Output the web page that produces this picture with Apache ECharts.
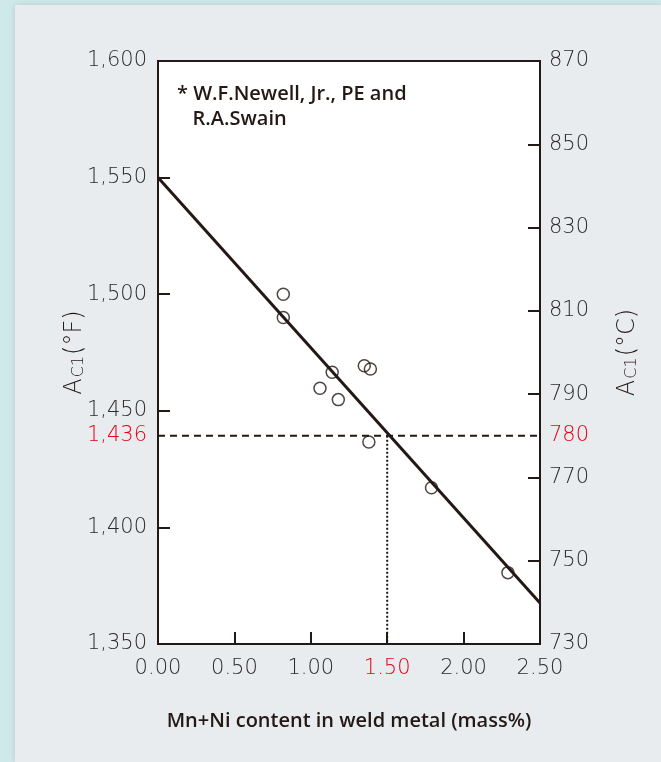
<!DOCTYPE html>
<html><head><meta charset="utf-8">
<script src="https://cdn.jsdelivr.net/npm/echarts@6/dist/echarts.min.js"></script>
<style>html,body{margin:0;padding:0;background:#cfe8e9;}#c{width:661px;height:762px;}</style>
</head><body><div id="c"></div>
<script>
// Data
const mnNi = [0.82, 0.82, 1.14, 1.06, 1.18, 1.35, 1.39, 1.38, 1.79, 2.29];
const ac1F = [1500, 1490, 1466.5, 1459.7, 1454.8, 1469.3, 1467.9, 1436.6, 1417, 1380.6];
const fitX = [0, 2.5];
const fitF = [1550, 1367.6];
const refMnNi = 1.5;
const refC = 780;
const refFLabel = '1,436';
const xTicks = [0, 0.5, 1, 1.5, 2, 2.5];
const leftTicks = [1350, 1400, 1450, 1500, 1550, 1600];
const rightLabels = [730, 750, 770, 780, 790, 810, 830, 850, 870];
const rightTickMarks = [750, 770, 790, 810, 830, 850];
const note = '* W.F.Newell, Jr., PE and\n   R.A.Swain';
const xName = 'Mn+Ni content in weld metal (mass%)';

const ink = '#231815';
const txt = '#2e2a29';
const red = '#e60012';
const tickFont = {fontFamily: 'DejaVu Sans', fontWeight: 200, fontSize: 21, color: txt};
const boldFont = 'Open Sans';
const nameRich = {
  a: {fontFamily: 'DejaVu Sans', fontWeight: 200, fontSize: 24, color: ink},
  s: {fontFamily: 'DejaVu Sans', fontWeight: 200, fontSize: 16, color: ink, padding: [8, 1, 0, 1]}
};

const chart = echarts.init(document.getElementById('c'));
chart.setOption({
  animation: false,
  backgroundColor: 'transparent',
  graphic: [{type: 'rect', left: 15, top: 5, shape: {width: 646, height: 757}, style: {fill: '#e9ecef', shadowBlur: 6, shadowColor: 'rgba(0,0,0,0.12)'}, z: -10}],
  title: {text: note, left: 172, top: 77, textStyle: {fontFamily: boldFont, fontWeight: 600, fontSize: 20, color: ink, lineHeight: 25}},
  grid: {left: 158, right: 121, top: 61, bottom: 118, show: true, backgroundColor: '#fff', borderColor: ink, borderWidth: 2},
  xAxis: {
    type: 'value', min: 0, max: 2.5, interval: 0.5,
    name: xName, nameLocation: 'middle', nameGap: 67, nameMoveOverlap: false,
    nameTextStyle: {fontFamily: boldFont, fontWeight: 600, fontSize: 20, color: ink},
    axisLine: {lineStyle: {color: ink, width: 2}},
    axisTick: {inside: true, length: 12, lineStyle: {color: ink, width: 2}, customValues: xTicks.slice(1, -1)},
    axisLabel: Object.assign({}, tickFont, {margin: 14, formatter: v => v === refMnNi ? '{r|' + v.toFixed(2) + '}' : v.toFixed(2), rich: {r: Object.assign({}, tickFont, {color: red})}}),
    splitLine: {show: false}
  },
  yAxis: [{
    type: 'value', min: 1350, max: 1600, interval: 50, position: 'left',
    name: '{a|A}{s|C1}{a|(°F)}', nameLocation: 'middle', nameGap: 71, nameRotate: 90, nameMoveOverlap: false,
    nameTextStyle: {rich: nameRich},
    axisLine: {show: true, lineStyle: {color: ink, width: 2}},
    axisTick: {inside: true, length: 12, lineStyle: {color: ink, width: 2}, customValues: leftTicks.slice(1, -1)},
    axisLabel: Object.assign({}, tickFont, {margin: 11, formatter: v => v.toLocaleString('en-US')}),
    splitLine: {show: false}
  }, {
    type: 'value', min: 730, max: 870, interval: 20, position: 'right',
    name: '{a|A}{s|C1}{a|(°C)}', nameLocation: 'middle', nameGap: 76, nameRotate: 90, nameMoveOverlap: false,
    nameTextStyle: {rich: nameRich},
    axisLine: {show: true, lineStyle: {color: ink, width: 2}},
    axisTick: {inside: true, length: 12, lineStyle: {color: ink, width: 2}, customValues: rightTickMarks},
    axisLabel: Object.assign({}, tickFont, {margin: 9, customValues: rightLabels, formatter: v => v === refC ? '{r|' + v + '}' : String(v), rich: {r: Object.assign({}, tickFont, {color: red})}}),
    splitLine: {show: false}
  }, {
    type: 'value', min: 730, max: 870, position: 'left', offset: 0,
    axisLine: {show: false}, axisTick: {show: false}, splitLine: {show: false},
    axisLabel: Object.assign({}, tickFont, {color: red, margin: 11, customValues: [refC], formatter: () => refFLabel})
  }],
  series: [{
    type: 'line', data: fitX.map((x, i) => [x, fitF[i]]), yAxisIndex: 0,
    showSymbol: false, lineStyle: {color: ink, width: 3}, z: 3
  }, {
    type: 'line', data: [[0, refC], [2.5, refC]], yAxisIndex: 1,
    showSymbol: false, lineStyle: {color: ink, width: 2, type: [7, 5]}, z: 2
  }, {
    type: 'line', data: [[refMnNi, refC], [refMnNi, 730]], yAxisIndex: 1,
    showSymbol: false, lineStyle: {color: ink, width: 2, type: [2, 2]}, z: 2
  }, {
    type: 'scatter', data: mnNi.map((x, i) => [x, ac1F[i]]), yAxisIndex: 0,
    symbol: 'circle', symbolSize: 12,
    itemStyle: {color: 'rgba(255,255,255,0)', borderColor: ink, borderWidth: 1.5}, z: 4
  }]
});
</script></body></html>
